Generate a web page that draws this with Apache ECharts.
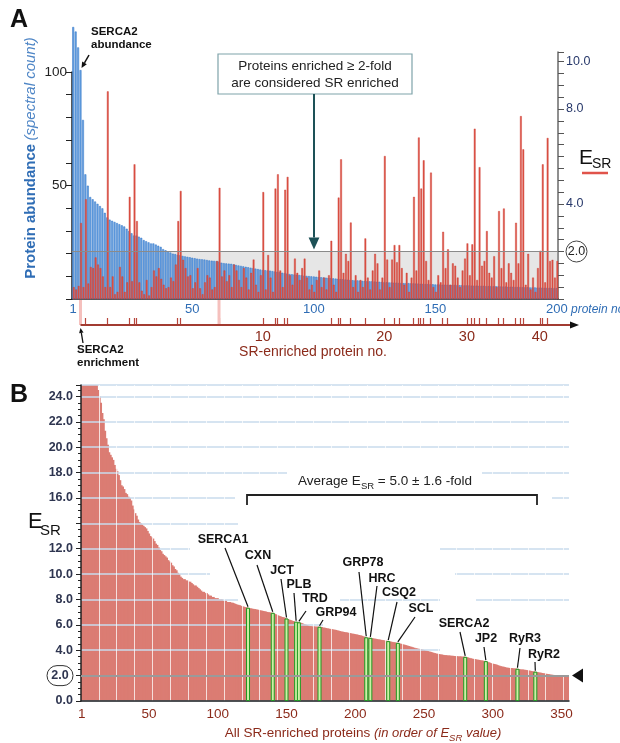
<!DOCTYPE html>
<html lang="en">
<head>
<meta charset="UTF-8">
<title>SR enrichment</title>
<script src="https://cdn.jsdelivr.net/npm/echarts@6.0.0/dist/echarts.min.js"></script>
<style>
  html, body { margin: 0; padding: 0; background: #fff; }
  #main { width: 620px; height: 743px; }
</style>
</head>
<body>
<div id="main"></div>
<script>
// A: protein abundance (spectral count), proteins 1..200 in rank order
var abundance = [
  120,118,111,101,79,55,50,45,44,43,
  42,41,40,38,36,35,34.5,34,33.5,33,
  32.5,32,31,30,29,28,28,27.5,27,26,
  25.5,25,24.5,24.5,24,23.5,23,22,21.5,21,
  20.5,20,19.8,19.5,19.3,19,18.8,18.6,18.4,18.2,
  18,17.8,17.6,17.5,17.4,17.2,17,16.9,16.8,16.7,
  16.5,16,15.8,15.7,15.6,15.5,15.3,15,14.8,14.6,
  14.4,14.2,14,13.8,13.6,13.4,13.2,13,12.8,12.7,
  12.6,12.5,12.3,12.1,12,11.8,11.6,11.4,11.2,11,
  10.9,10.8,10.7,10.6,10.5,10.3,10.2,10.1,10,9.9,
  9.8,9.7,9.6,9.5,9.4,9.3,9.2,9.1,9,8.9,
  8.8,8.7,8.6,8.5,8.4,8.3,8.2,8.2,8.1,8,
  8,7.9,7.8,7.8,7.7,7.6,7.6,7.5,7.4,7.4,
  7.3,7.3,7.2,7.2,7.1,7.1,7,7,7,6.9,
  6.9,6.8,6.8,6.7,6.7,6.6,6.6,6.5,6.5,6.4,
  6.4,6.4,6.3,6.3,6.3,6.2,6.2,6.2,6.1,6.1,
  6.1,6,6,6,5.9,5.9,5.9,5.8,5.8,5.8,
  5.7,5.7,5.7,5.6,5.6,5.6,5.5,5.5,5.5,5.4,
  5.4,5.4,5.3,5.3,5.3,5.2,5.2,5.2,5.1,5.1,
  5.1,5,5,5,4.9,4.9,4.9,4.8,4.8,4.8
];
// A: E_SR of the same 200 proteins
var esrA = [
  0.5,0.4,0.55,3.2,0.5,4.2,0.65,1.35,1.3,1.75,
  1.45,1.3,0.95,0.5,8.74,0.5,0.95,0.2,0.3,1.35,
  0.95,0.3,0.7,4.3,0.75,5.67,3.28,0.7,0.35,0.2,
  0.8,0.15,0.5,1.2,0.95,1.3,0.85,0.6,0.45,0.5,
  0.9,0.75,1.45,3.28,4.55,1.65,1.3,0.95,1.0,0.45,
  0.7,1.3,0.45,0.2,0.7,1.0,0.9,0.4,0.5,1.6,
  4.68,0.95,1.2,0.75,1.0,0.5,1.45,1.2,0.8,0.5,
  1.3,0.9,0.4,1.1,1.66,0.6,0.3,1.0,4.5,0.4,
  1.85,0.9,0.3,4.65,5.25,1.2,0.5,4.6,5.14,1.0,
  0.6,1.7,1.1,0.8,1.3,1.7,0.9,0.4,0.6,0.3,
  0.8,1.2,0.5,0.9,0.4,1.0,2.45,0.6,0.3,4.27,
  5.88,1.1,1.9,1.6,3.22,0.5,1.0,0.3,0.8,0.5,
  2.55,0.9,0.4,1.2,1.9,1.5,0.4,0.9,6.02,1.66,
  0.5,1.66,2.27,1.55,2.27,1.3,0.6,1.1,0.3,0.9,
  4.3,1.2,6.8,4.65,5.84,1.6,0.8,5.32,0.5,0.3,
  1.0,0.7,2.83,1.3,2.09,0.6,1.5,1.4,0.9,0.5,
  1.2,1.7,2.34,1.0,2.3,7.17,0.8,5.55,1.4,1.6,
  2.86,1.1,0.9,1.8,0.5,3.7,1.3,3.81,0.7,1.5,
  1.1,0.8,3.21,1.5,7.7,6.3,0.6,1.9,0.4,0.9,
  0.3,1.3,2.03,5.67,0.7,6.78,1.6,1.65,0.9,1.6
];
// A: proteins marked in pink down to the enriched-number axis
var pinkProteins = [4, 61];
var srThreshold = 2;

// B: E_SR of all SR-enriched proteins, sorted
var esrB = [
  38.0,34.5,32.0,30.5,29.6,28.8,28.0,27.2,26.5,25.9,
  25.4,25.0,24.5,24.0,23.5,22.7,22.2,21.3,20.7,20.2,
  19.6,19.4,19.2,19.0,18.6,18.3,18.1,17.8,17.4,17.0,
  16.9,16.7,16.4,16.3,16.1,16.0,15.8,15.4,15.1,14.8,
  14.6,14.3,14.1,14.0,13.9,13.8,13.7,13.6,13.4,13.2,
  13.0,12.9,12.8,12.6,12.4,12.3,12.1,11.9,11.8,11.6,
  11.5,11.4,11.3,11.1,11.0,10.9,10.7,10.6,10.4,10.3,
  10.1,10.0,9.8,9.7,9.6,9.6,9.5,9.5,9.4,9.4,
  9.3,9.2,9.1,9.1,9.0,8.9,8.8,8.7,8.6,8.6,
  8.5,8.5,8.4,8.3,8.3,8.2,8.2,8.1,8.1,8.1,
  8.0,8.0,8.0,7.9,7.9,7.9,7.8,7.8,7.8,7.75,
  7.74,7.7,7.65,7.6,7.58,7.55,7.5,7.46,7.43,7.4,
  7.38,7.35,7.32,7.3,7.28,7.26,7.24,7.22,7.2,7.17,
  7.15,7.12,7.1,7.08,7.05,7.02,7.0,6.98,6.96,6.95,
  6.9,6.85,6.8,6.75,6.7,6.66,6.62,6.6,6.55,6.5,
  6.46,6.42,6.38,6.34,6.3,6.28,6.25,6.22,6.2,6.18,
  6.14,6.1,6.06,6.02,5.98,5.94,5.9,5.9,5.88,5.88,
  5.87,5.86,5.86,5.85,5.84,5.83,5.8,5.78,5.75,5.72,
  5.7,5.68,5.66,5.64,5.62,5.6,5.57,5.54,5.51,5.48,
  5.46,5.44,5.42,5.4,5.38,5.35,5.33,5.31,5.29,5.27,
  5.25,5.22,5.2,5.17,5.14,5.1,5.06,5.02,5.0,4.99,
  4.98,4.96,4.94,4.92,4.9,4.88,4.86,4.84,4.82,4.8,
  4.78,4.76,4.74,4.72,4.7,4.68,4.66,4.64,4.62,4.6,
  4.58,4.55,4.52,4.49,4.46,4.43,4.4,4.37,4.33,4.3,
  4.27,4.23,4.2,4.16,4.14,4.12,4.1,4.08,4.05,4.02,
  3.99,3.96,3.93,3.9,3.87,3.84,3.8,3.77,3.74,3.72,
  3.7,3.68,3.66,3.64,3.62,3.61,3.6,3.59,3.58,3.57,
  3.56,3.55,3.54,3.53,3.52,3.52,3.51,3.5,3.5,3.48,
  3.46,3.43,3.4,3.37,3.34,3.32,3.3,3.28,3.26,3.24,
  3.22,3.2,3.18,3.16,3.14,3.1,3.06,3.02,2.98,2.94,
  2.92,2.9,2.86,2.82,2.78,2.74,2.72,2.7,2.67,2.64,
  2.62,2.61,2.6,2.59,2.58,2.57,2.56,2.54,2.52,2.5,
  2.49,2.48,2.47,2.45,2.43,2.41,2.39,2.37,2.35,2.33,
  2.31,2.29,2.27,2.25,2.23,2.21,2.19,2.17,2.15,2.13,
  2.11,2.09,2.07,2.06,2.05,2.05,2.04,2.04,2.03,2.03,
  2.03,2.02,2.02,2.02,2.01
];
// B: named proteins (position in the sorted list)
var hlNames    = ['SERCA1','CXN','JCT','PLB','TRD','GRP94','GRP78','HRC','CSQ2','SCL','SERCA2','JP2','RyR3','RyR2'];
var hlProteins = [122, 140, 150, 157, 159, 174, 208, 211, 224, 231, 280, 295, 318, 331];

var labelStepA = 50;   // protein no. labels 1, 50, 100...
var labelStepB = 50;
var rankLabelStep = 10; // SR-enriched no. labels 10, 20...

// callout layout for B: text centre x,y and leader start x,y
var calloutPos = {
  SERCA1: [223, 540, 225, 548], CXN: [258, 556, 257, 565], JCT: [282, 571, 281, 579],
  PLB: [299, 585, 294, 593], TRD: [315, 599, 306, 611], GRP94: [336, 613, 323, 620],
  GRP78: [363, 563, 359, 572], HRC: [382, 579, 377, 586], CSQ2: [399, 593, 397, 602],
  SCL: [421, 609, 415, 617], SERCA2: [464, 624, 460, 632], JP2: [486, 639, 484, 647],
  RyR3: [525, 639, 520, 648], RyR2: [544, 655, 535, 662]
};
// pieces of B gridlines hidden behind the annotations: [value, x1, x2]
var gridGaps = [[18, 287, 482], [16, 235, 552], [14, 238, 572], [12, 190, 440], [10, 210, 455],
  [8, 238, 340], [8, 440, 476], [6, 323, 572], [4, 440, 572]];

var FONT = 'Liberation Sans, Arial, sans-serif';
var BLUE = '#2f6db5';
var DARKRED = '#8b2a1a';

var chart = echarts.init(document.getElementById('main'));

var catsA = abundance.map(function (v, i) { return String(i + 1); });
var catsB = esrB.map(function (v, i) { return String(i + 1); });

// running number of each SR-enriched protein in A
var rankA = [];
var cnt = 0;
esrA.forEach(function (v, i) {
  if (v >= srThreshold) { cnt++; rankA[i] = cnt; } else { rankA[i] = 0; }
});
var pinkData = catsA.map(function (c, i) { return pinkProteins.indexOf(i + 1) >= 0 ? 1 : null; });
var hlData = catsB.map(function (c, i) { return hlProteins.indexOf(i + 1) >= 0 ? esrB[i] : null; });

var option = {
  animation: false,
  textStyle: { fontFamily: FONT },
  grid: [
    { left: 72, width: 486, top: 27, height: 272 },   // A abundance
    { left: 72, width: 486, top: 52, height: 247 },   // A E_SR
    { left: 72, width: 486, top: 300, height: 25 },   // A enriched no.
    { left: 72, width: 486, top: 72, height: 227 },   // A left axis
    { left: 81, width: 488, top: 385, height: 316 }   // B
  ],
  xAxis: [
    {
      type: 'category', gridIndex: 0, data: catsA,
      axisLine: { lineStyle: { color: '#222', width: 1.5 } },
      axisTick: { alignWithLabel: true, length: 4, lineStyle: { color: BLUE },
        interval: function (i) { return i === 0 || (i + 1) % 10 === 0; } },
      axisLabel: { color: BLUE, fontSize: 13, margin: 4,
        interval: function (i) { return i === 0 || (i + 1) % labelStepA === 0; } },
      splitLine: { show: false }
    },
    { type: 'category', gridIndex: 1, data: catsA, show: false },
    {
      type: 'category', gridIndex: 2, data: catsA,
      axisLine: { show: false },
      axisTick: { show: true, inside: true, alignWithLabel: true, length: 7,
        lineStyle: { color: '#b8463d', width: 1.2 },
        interval: function (i) { return rankA[i] > 0; } },
      axisLabel: { color: DARKRED, fontSize: 14.5, margin: 4,
        interval: function (i) { return rankA[i] > 0 && rankA[i] % rankLabelStep === 0; },
        formatter: function (v, i) { return String(rankA[i]); } },
      splitLine: { show: false }
    },
    { type: 'category', gridIndex: 3, data: catsA, show: false },
    {
      type: 'category', gridIndex: 4, data: catsB, z: 3,
      axisLine: { lineStyle: { color: '#222', width: 1.5 } },
      axisTick: { alignWithLabel: true, length: 4, lineStyle: { color: '#333' },
        interval: function (i) { return i % 13 === 0; } },
      axisLabel: { color: DARKRED, fontSize: 13.5, margin: 6,
        interval: function (i) { return i === 0 || (i + 1) % labelStepB === 0; } },
      splitLine: { show: true, interval: function (i) { return i > 0 && i % 13 === 0; },
        lineStyle: { color: 'rgba(255,255,255,0.75)', width: 1 } }
    },
    { type: 'category', gridIndex: 4, data: catsB, show: false }
  ],
  yAxis: [
    { type: 'value', gridIndex: 0, min: 0, max: 120, show: false },
    {
      type: 'value', gridIndex: 1, position: 'right', min: 0, max: 10.4, interval: 0.5,
      axisLine: { show: true, lineStyle: { color: '#6a6a6a', width: 1.5 } },
      axisTick: { show: true, length: 6, lineStyle: { color: '#555' } },
      axisLabel: {
        color: '#27386a', fontSize: 12.5, margin: 8,
        formatter: function (v) {
          if (v === 2) return '{c|2.0}';
          if (v === 4 || v === 8 || v === 10) return v.toFixed(1);
          return '';
        },
        rich: { c: { width: 21, height: 21, lineHeight: 21, borderRadius: 11, borderColor: '#444',
          borderWidth: 1, align: 'center', color: '#222', fontSize: 12.5 } }
      },
      splitLine: { show: false }
    },
    { type: 'value', gridIndex: 2, min: 0, max: 1, show: false },
    {
      type: 'value', gridIndex: 3, min: 0, max: 100, interval: 10,
      axisLine: { show: true, lineStyle: { color: '#222', width: 1.5 } },
      axisTick: { show: true, length: 6, lineStyle: { color: '#222' } },
      axisLabel: { color: '#222', fontSize: 13.5, margin: 5,
        formatter: function (v) { return v === 50 || v === 100 ? String(v) : ''; } },
      splitLine: { show: false }
    },
    {
      type: 'value', gridIndex: 4, min: 0, max: 24.9, interval: 2, z: 3,
      axisLine: { show: true, lineStyle: { color: '#222', width: 1.5 } },
      axisTick: { show: true, length: 5, lineStyle: { color: '#222' } },
      minorTick: { show: true, splitNumber: 4, length: 3, lineStyle: { color: '#222' } },
      axisLabel: {
        color: '#2e3550', fontSize: 12.5, fontWeight: 'bold', margin: 8,
        formatter: function (v) {
          if (v === 2) return '{c|2.0}';
          if (v === 14 || v > 24.5) return '';
          return v.toFixed(1);
        },
        rich: { c: { width: 26, height: 20, lineHeight: 20, borderRadius: 11, borderColor: '#333',
          borderWidth: 1, align: 'center', color: '#2e3550', fontSize: 12.5, fontWeight: 'bold' } }
      },
      splitLine: { show: true, lineStyle: { color: '#c8dbed', width: 1.6 } }
    }
  ],
  series: [
    { type: 'bar', name: 'abundance', xAxisIndex: 0, yAxisIndex: 0, data: abundance,
      barWidth: '80%', itemStyle: { color: '#6aa3e4', borderColor: '#2f72c4', borderWidth: 0.5 }, silent: true },
    { type: 'bar', name: 'band', xAxisIndex: 1, yAxisIndex: 1, data: [], silent: true,
      markArea: { silent: true, itemStyle: { color: 'rgba(165,165,165,0.28)' },
        data: [[{ yAxis: 0 }, { yAxis: srThreshold }]] },
      markLine: { silent: true, symbol: ['none', 'none'], label: { show: false },
        lineStyle: { color: '#8a8a8a', width: 1.2, type: 'solid' }, data: [{ yAxis: srThreshold }] } },
    { type: 'bar', name: 'ESR', xAxisIndex: 1, yAxisIndex: 1, data: esrA,
      barWidth: '72%', itemStyle: { color: '#de5447', borderColor: '#c93a2f', borderWidth: 0.4 }, silent: true },
    { type: 'bar', name: 'pink', xAxisIndex: 2, yAxisIndex: 2, data: pinkData,
      barWidth: 3, itemStyle: { color: '#f5c0bd' }, silent: true },
    { type: 'bar', name: 'ESR sorted', xAxisIndex: 4, yAxisIndex: 4, data: esrB,
      barWidth: 2.2, itemStyle: { color: '#db7c73' }, silent: true },
    { type: 'bar', name: 'named', xAxisIndex: 5, yAxisIndex: 4, data: hlData, z: 4,
      barWidth: 4, itemStyle: { color: '#cdf0a5', borderColor: '#1f9a22', borderWidth: 1 }, silent: true,
      markLine: { silent: true, symbol: ['none', 'none'], label: { show: false },
        lineStyle: { color: '#9a9a9a', width: 2, type: 'solid' }, data: [{ yAxis: srThreshold }] } }
  ]
};
chart.setOption(option);

function txt(x, y, s, font, color, align, vAlign) {
  return { type: 'text', x: x, y: y, z: 20, silent: true,
    style: { text: s, font: font, fill: color, align: align || 'left', verticalAlign: vAlign || 'middle' } };
}
function seg(x1, y1, x2, y2, color, w) {
  return { type: 'line', z: 20, silent: true, shape: { x1: x1, y1: y1, x2: x2, y2: y2 },
    style: { stroke: color, lineWidth: w } };
}
function arrow(x1, y1, x2, y2, color, w, head) {
  var a = Math.atan2(y2 - y1, x2 - x1);
  var bx = x2 - head * Math.cos(a), by = y2 - head * Math.sin(a);
  var px = -Math.sin(a) * head * 0.45, py = Math.cos(a) * head * 0.45;
  return [seg(x1, y1, bx, by, color, w),
    { type: 'polygon', z: 20, silent: true, shape: { points: [[x2, y2], [bx + px, by + py], [bx - px, by - py]] },
      style: { fill: color } }];
}

var g = [];
// panel letters
g.push(txt(10, 20, 'A', 'bold 25px ' + FONT, '#111'));
g.push(txt(10, 395, 'B', 'bold 25px ' + FONT, '#111'));

// ---- panel A annotations
var p4 = chart.convertToPixel({ xAxisIndex: 0, yAxisIndex: 0 }, [pinkProteins[0] - 1, abundance[pinkProteins[0] - 1]]);
g.push(txt(91, 32, 'SERCA2', 'bold 11.5px ' + FONT, '#111'));
g.push(txt(91, 45, 'abundance', 'bold 11.5px ' + FONT, '#111'));
g = g.concat(arrow(89, 55, p4[0] + 1, p4[1] - 2, '#111', 1.5, 6));

g.push({ type: 'rect', z: 19, silent: true, shape: { x: 218, y: 54, width: 194, height: 40 },
  style: { fill: '#fff', stroke: '#7fa3aa', lineWidth: 1.2 } });
g.push(txt(315, 66, 'Proteins enriched \u2265 2-fold', '13.5px ' + FONT, '#222', 'center'));
g.push(txt(315, 83, 'are considered SR enriched', '13.5px ' + FONT, '#222', 'center'));
var thrY = chart.convertToPixel({ yAxisIndex: 1 }, srThreshold);
g = g.concat(arrow(314, 94, 314, thrY - 2, '#1d5157', 2, 12));

g.push({ type: 'text', x: 31, y: 158, z: 20, rotation: Math.PI / 2, silent: true,
  style: { text: '{b|Protein abundance} {i|(spectral count)}', align: 'center', verticalAlign: 'middle',
    rich: { b: { font: 'bold 15px ' + FONT, fill: BLUE }, i: { font: 'italic 15px ' + FONT, fill: '#4f86c6' } } } });

g.push(txt(571, 310, 'protein no.', 'italic 12px ' + FONT, BLUE));
g.push(txt(579, 158, 'E', '21px ' + FONT, '#111'));
g.push(txt(592, 164, 'SR', '14px ' + FONT, '#111'));
g.push(seg(582, 173, 608, 173, '#e0534a', 2.5));

// SR-enriched protein no. axis
var axY = chart.convertToPixel({ xAxisIndex: 2, yAxisIndex: 2 }, [pinkProteins[0] - 1, 0]);
g.push(seg(axY[0], axY[1], 571, axY[1], '#a23b31', 2));
g.push({ type: 'polygon', z: 20, silent: true,
  shape: { points: [[579, axY[1]], [570, axY[1] - 3.5], [570, axY[1] + 3.5]] }, style: { fill: '#111' } });
g.push(txt(77, 350, 'SERCA2', 'bold 11.5px ' + FONT, '#111'));
g.push(txt(77, 363, 'enrichment', 'bold 11.5px ' + FONT, '#111'));
g = g.concat(arrow(83, 343, axY[0], axY[1] + 3, '#111', 1.3, 5));
g.push(txt(313, 352, 'SR-enriched protein no.', '14px ' + FONT, DARKRED, 'center'));

// ---- panel B annotations
g.push(txt(28, 522, 'E', '22px ' + FONT, '#111'));
g.push(txt(40, 531, 'SR', '15px ' + FONT, '#111'));

gridGaps.forEach(function (gap) {
  var y = chart.convertToPixel({ yAxisIndex: 4 }, gap[0]);
  g.push({ type: 'rect', z: 10, silent: true, shape: { x: gap[1], y: y - 2.5, width: gap[2] - gap[1], height: 5 },
    style: { fill: '#fff' } });
});

g.push({ type: 'polyline', z: 20, silent: true,
  shape: { points: [[247, 505], [247, 495], [537, 495], [537, 505]] }, style: { stroke: '#222', lineWidth: 1.8, fill: null } });
g.push({ type: 'text', x: 385, y: 481, z: 20, silent: true,
  style: { text: '{n|Average E}{s|SR}{n| = 5.0 \u00b1 1.6 -fold}', align: 'center', verticalAlign: 'middle',
    rich: { n: { fontSize: 13.5, fontFamily: FONT, fill: '#222', lineHeight: 20, verticalAlign: 'middle' },
      s: { fontSize: 9.5, fontFamily: FONT, fill: '#222', lineHeight: 10, verticalAlign: 'bottom' } } } });

hlNames.forEach(function (name, k) {
  var idx = hlProteins[k] - 1;
  var top = chart.convertToPixel({ xAxisIndex: 5, yAxisIndex: 4 }, [idx, esrB[idx]]);
  var c = calloutPos[name];
  g.push(txt(c[0], c[1], name, 'bold 12.5px ' + FONT, '#111', 'center'));
  g.push(seg(c[2], c[3], top[0], top[1] - 1, '#111', 1.2));
});

var twoY = chart.convertToPixel({ yAxisIndex: 4 }, srThreshold);
g.push({ type: 'polygon', z: 20, silent: true,
  shape: { points: [[572, twoY], [583, twoY - 7], [583, twoY + 7]] }, style: { fill: '#111' } });

g.push({ type: 'text', x: 363, y: 733, z: 20, silent: true,
  style: { text: '{n|All SR-enriched proteins }{i|(in order of E}{s|SR}{i| value)}', align: 'center', verticalAlign: 'middle',
    rich: { n: { fontSize: 13.5, fontFamily: FONT, fill: DARKRED, lineHeight: 20, verticalAlign: 'middle' },
      i: { fontSize: 13, fontStyle: 'italic', fontFamily: FONT, fill: DARKRED, lineHeight: 20, verticalAlign: 'middle' },
      s: { fontSize: 9.5, fontStyle: 'italic', fontFamily: FONT, fill: DARKRED, lineHeight: 10, verticalAlign: 'bottom' } } } });

chart.setOption({ graphic: { elements: g } });
</script>
</body>
</html>
